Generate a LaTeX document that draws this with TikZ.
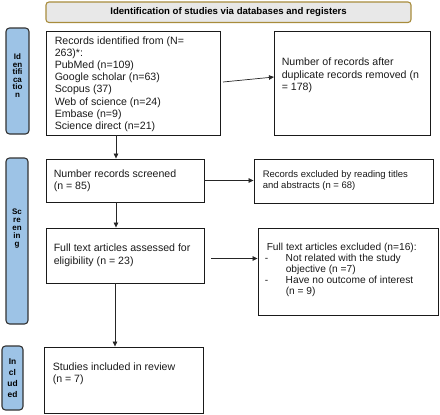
\documentclass[tikz,border=0pt]{standalone}
\usepackage{fontspec}
\setmainfont{Liberation Sans}
\usetikzlibrary{arrows.meta,calc}
\definecolor{sideblue}{HTML}{9DC3E6}
\definecolor{hdrfill}{HTML}{E8E8E8}
\definecolor{hdrdraw}{HTML}{A88C3C}
\definecolor{ink}{HTML}{1A1A1A}
\begin{document}
\begin{tikzpicture}[x=1pt,y=-1pt,
  box/.style={draw=ink,line width=0.9pt,rectangle,inner sep=0pt},
  txt/.style={anchor=west,align=left,inner sep=0pt,text=ink,font=\fontsize{10.6}{12.2}\selectfont},
  side/.style={draw=black!80,line width=1.1pt,fill=sideblue,rounded corners=3.5pt,inner sep=0pt},
  sidetext/.style={font=\fontsize{8}{7.5}\selectfont\bfseries,align=center,text=black,inner sep=0pt},
  arr/.style={draw=black!85,line width=0.7pt,-{Triangle[length=5pt,width=4.5pt]}},
  hdr/.style={draw=hdrdraw,fill=hdrfill,line width=1.1pt,rounded corners=3pt,inner sep=0pt,font=\fontsize{9.6}{11}\selectfont\bfseries}
]
\useasboundingbox (0,0) rectangle (440,415);

% header
\node[hdr,minimum width=365pt,minimum height=20.5pt] (hd) at (228.5,12.25) {Identification of studies via databases and registers};

% side bars
\node[side,minimum width=23pt,minimum height=106pt] (sa) at (17.5,81) {};
\node[sidetext,yshift=5.5pt] (sat) at (sa.center) {Id\\en\\tifi\\ca\\tio\\n};
\node[side,minimum width=22pt,minimum height=166pt] (sb) at (17,241) {};
\node[sidetext,font=\fontsize{8}{8}\selectfont\bfseries,yshift=12pt] (sbt) at (sb.center) {Sc\\re\\en\\in\\g};
\node[side,minimum width=21pt,minimum height=64pt] (sc) at (12.5,378) {};
\node[sidetext,font=\fontsize{8.4}{11}\selectfont\bfseries] (sct) at (sc.center) {In\\cl\\ud\\ed};

% boxes
\node[box,minimum width=174pt,minimum height=104pt] (b1) at (133,83) {};
\node[txt,yshift=-1pt] (b1t) at ([xshift=9pt]b1.west) {Records identified from (N=\\263)*:\\PubMed (n=109)\\Google scholar (n=63)\\Scopus (37)\\Web of science (n=24)\\Embase (n=9)\\Science direct (n=21)};

\node[box,minimum width=156pt,minimum height=104pt] (b2) at (352,83) {};
\node[txt,font=\fontsize{10.6}{12.5}\selectfont,yshift=7.5pt] (b2t) at ([xshift=8pt]b2.west) {Number of records after\\duplicate records removed (n\\= 178)};

\node[box,minimum width=158pt,minimum height=43pt] (s1) at (125,180.5) {};
\node[txt,font=\fontsize{10.6}{12}\selectfont] (s1t) at ([xshift=8pt]s1.west) {Number records screened\\(n = 85)};

\node[box,minimum width=179pt,minimum height=44pt] (e1) at (343.5,181) {};
\node[txt,font=\fontsize{9.5}{11}\selectfont] (e1t) at ([xshift=9pt]e1.west) {Records excluded by reading titles\\and abstracts (n = 68)};

\node[box,minimum width=158pt,minimum height=55pt] (f1) at (125,255.5) {};
\node[txt,font=\fontsize{10.6}{12.8}\selectfont] (f1t) at ([xshift=8pt]f1.west) {Full text articles assessed for\\eligibility (n = 23)};

\node[box,minimum width=180pt,minimum height=87pt] (fe) at (348,271.5) {};
\node[txt,font=\fontsize{10.2}{11}\selectfont,yshift=1.5pt] (fet) at ([xshift=9pt]fe.west) {Full text articles excluded (n=16):\\
\hspace*{-2pt}\makebox[21pt][l]{-}Not related with the study\\
\hspace*{19pt}objective (n =7)\\
\hspace*{-2pt}\makebox[21pt][l]{-}Have no outcome of interest\\
\hspace*{19pt}(n = 9)};

\node[box,minimum width=159pt,minimum height=66pt] (inc) at (123.5,380) {};
\node[txt,font=\fontsize{10.6}{12}\selectfont,yshift=6pt] (inct) at ([xshift=9pt]inc.west) {Studies included in review\\(n = 7)};

% connectors
\coordinate (a1s) at (223,82);
\coordinate (a1e) at (274,77);
\draw[arr] (a1s) -- (a1e);
\draw[arr] ([xshift=-17pt]b1.south) -- ([xshift=-17pt]b1.south |- s1.north);
\draw[arr] (s1.east) -- (s1.east -| e1.west);
\draw[arr] ([xshift=-9pt]s1.south) -- ([xshift=-9pt]s1.south |- f1.north);
\coordinate (a5s) at ([xshift=7pt,yshift=-3pt]f1.east);
\draw[arr] (a5s) -- (a5s -| fe.west);
\draw[arr] ([xshift=-10pt]f1.south) -- ([xshift=-10pt]f1.south |- inc.north);
\end{tikzpicture}
\end{document}
